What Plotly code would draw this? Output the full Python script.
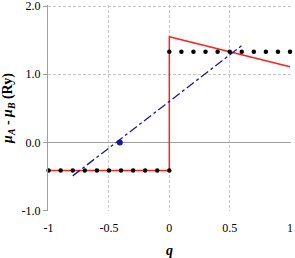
import plotly.graph_objects as go

dots_left_q = [-1, -0.9, -0.8, -0.7, -0.6, -0.5, -0.4, -0.3, -0.2, -0.1, 0]
dots_left_v = [-0.41] * 11
dots_right_q = [0, 0.1, 0.2, 0.3, 0.4, 0.5, 0.6, 0.7, 0.8, 0.9, 1.0]
dots_right_v = [1.33] * 11
red_q = [-1, 0, 0, 1]
red_v = [-0.41, -0.41, 1.55, 1.11]
blue_q = [-0.8, 0.6]
blue_v = [-0.49, 1.42]
point_q = [-0.41]
point_v = [0.0]

font = "Times New Roman, Liberation Serif, serif"
fig = go.Figure()
fig.add_trace(go.Scatter(x=red_q, y=red_v, mode="lines",
                         line=dict(color="#ff2020", width=1.5), showlegend=False))
fig.add_trace(go.Scatter(x=blue_q, y=blue_v, mode="lines",
                         line=dict(color="#1a1a8c", width=1.3, dash="dashdot"), showlegend=False))
fig.add_trace(go.Scatter(x=dots_left_q + dots_right_q, y=dots_left_v + dots_right_v, mode="markers",
                         marker=dict(color="black", size=4.5), showlegend=False, cliponaxis=False))
fig.add_trace(go.Scatter(x=point_q, y=point_v, mode="markers",
                         marker=dict(color="#1a1a8c", size=6), showlegend=False))

fig.update_layout(
    width=295, height=258, margin=dict(l=48, r=4, t=5, b=47),
    plot_bgcolor="white", paper_bgcolor="white",
    font=dict(family=font, size=12, color="black"),
    xaxis=dict(range=[-1.005, 1.008], tickvals=[-1, -0.5, 0, 0.5, 1], ticktext=["-1", "-0.5", "0", "0.5", "1"],
               showgrid=True, gridcolor="#c8c8c8", griddash="3px,2px", gridwidth=1,
               zeroline=False, showline=False, ticks="", ticklabelstandoff=8,
               ticklabeloverflow="allow", automargin=False,
               title=dict(text="<b><i>q</i></b>", standoff=14)),
    yaxis=dict(range=[-1.005, 2.015], tickvals=[-1, 0, 1, 2], ticktext=["-1.0", "0.0", "1.0", "2.0"],
               showgrid=True, gridcolor="#c8c8c8", griddash="3px,2px", gridwidth=1,
               zeroline=True, zerolinecolor="#a0a0a0", zerolinewidth=1,
               showline=True, linecolor="#a0a0a0", linewidth=1, ticks="outside", ticklen=4, tickcolor="#a0a0a0",
               ticklabeloverflow="allow", automargin=False,
               title=dict(text="<b><i>μ</i><sub><i>A</i></sub> - <i>μ</i><sub><i>B</i></sub> (Ry)</b>", standoff=6)),
)
fig.write_html("out.html", config={"displayModeBar": False},
               post_script="document.body.style.margin='0';document.body.style.padding='0';")
